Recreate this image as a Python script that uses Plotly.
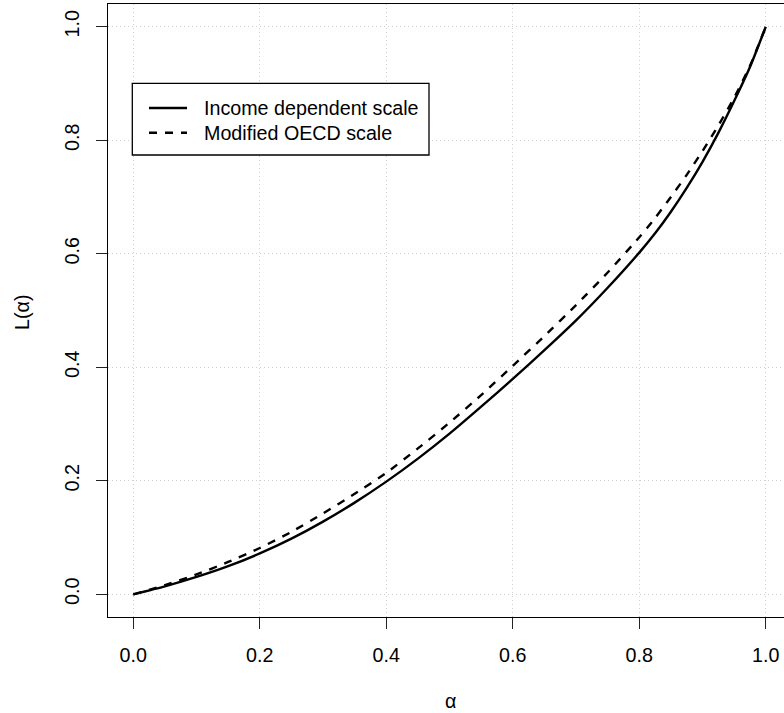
import plotly.graph_objects as go

# ---- data ----
alpha = [0.0, 0.05, 0.10, 0.15, 0.20, 0.25, 0.30, 0.35, 0.40, 0.45, 0.50,
         0.55, 0.60, 0.65, 0.70, 0.75, 0.80, 0.825, 0.85, 0.875, 0.90,
         0.925, 0.95, 0.975, 1.0]
income_dependent = [0.0, 0.014, 0.0305, 0.0495, 0.072, 0.098, 0.128, 0.1615, 0.1985, 0.239, 0.283,
                    0.3305, 0.3795, 0.430, 0.4825, 0.540, 0.602, 0.636, 0.674, 0.716, 0.762,
                    0.813, 0.869, 0.929, 1.0]
modified_oecd = [0.0, 0.016, 0.035, 0.057, 0.0815, 0.110, 0.1425, 0.177, 0.214, 0.257, 0.3025,
                 0.351, 0.4025, 0.455, 0.5095, 0.567, 0.629, 0.663, 0.700, 0.739, 0.781,
                 0.826, 0.875, 0.931, 1.0]
series_names = ["Income dependent scale", "Modified OECD scale"]
tick_vals = [0.0, 0.2, 0.4, 0.6, 0.8, 1.0]
tick_text = ["0.0", "0.2", "0.4", "0.6", "0.8", "1.0"]

W, H = 784, 713
L, R, T, B = 108, 0, 4, 96
PW, PH = W - L - R, H - T - B
FONT = "Liberation Sans, Arial, Helvetica, sans-serif"
FS = 19.7


def px(x):
    return (x - L) / PW


def py(y):
    return (H - B - y) / PH


fig = go.Figure()
fig.add_trace(go.Scatter(x=alpha, y=income_dependent, mode="lines", name=series_names[0],
                         line=dict(color="black", width=2.4, shape="spline", smoothing=0.6),
                         showlegend=False))
fig.add_trace(go.Scatter(x=alpha, y=modified_oecd, mode="lines", name=series_names[1],
                         line=dict(color="black", width=2.4, dash="8px,8px",
                                   shape="spline", smoothing=0.6),
                         showlegend=False))

axis_common = dict(
    tickvals=tick_vals, ticktext=tick_text, ticks="outside", ticklen=11, tickwidth=1,
    tickcolor="#222", showline=True, linecolor="black", linewidth=1.3,
    showgrid=True, gridcolor="#cfcfcf", griddash="1px,3px", gridwidth=1, zeroline=False,
    tickfont=dict(family=FONT, size=FS, color="black"),
)
fig.update_xaxes(range=[-0.04, 1.0288], mirror=True, ticklabelstandoff=9, **axis_common)
fig.update_yaxes(range=[-0.04, 1.04], mirror=False, tickangle=-90, ticklabelstandoff=9,
                 **axis_common)

shapes = []
# legend box
shapes.append(dict(type="rect", xref="paper", yref="paper",
                   x0=px(132.3), x1=px(429), y0=py(155), y1=py(83.3),
                   line=dict(color="black", width=1.3), fillcolor="white", layer="above"))
shapes.append(dict(type="line", xref="paper", yref="paper",
                   x0=px(149), x1=px(187), y0=py(108), y1=py(108),
                   line=dict(color="black", width=2.4)))
shapes.append(dict(type="line", xref="paper", yref="paper",
                   x0=px(149), x1=px(187), y0=py(132.7), y1=py(132.7),
                   line=dict(color="black", width=2.4, dash="8px,8px")))

annotations = [
    dict(text=series_names[0], xref="paper", yref="paper", x=px(202), y=py(108),
         xanchor="left", yanchor="middle", showarrow=False,
         font=dict(family=FONT, size=FS, color="black")),
    dict(text=series_names[1], xref="paper", yref="paper", x=px(202), y=py(132.7),
         xanchor="left", yanchor="middle", showarrow=False,
         font=dict(family=FONT, size=FS, color="black")),
    dict(text="α", xref="paper", yref="paper", x=px(450), y=py(701),
         xanchor="center", yanchor="middle", showarrow=False,
         font=dict(family=FONT, size=FS, color="black")),
    dict(text="L(α)", xref="paper", yref="paper", x=px(22), y=py(312),
         xanchor="center", yanchor="middle", showarrow=False, textangle=-90,
         font=dict(family=FONT, size=FS, color="black")),
]

fig.update_layout(
    width=W, height=H,
    margin=dict(l=L, r=R, t=T, b=B, pad=0),
    paper_bgcolor="white", plot_bgcolor="white",
    shapes=shapes, annotations=annotations, showlegend=False,
)

fig.write_html("out.html", config={"displayModeBar": False},
               post_script="document.body.style.margin='0';")
